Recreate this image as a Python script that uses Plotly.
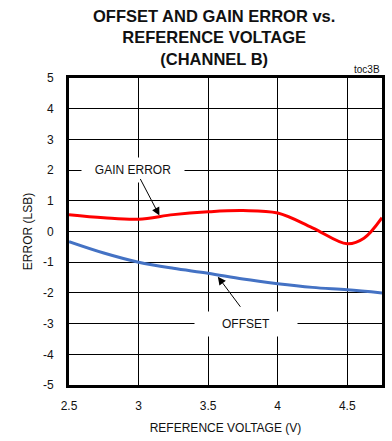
import plotly.graph_objects as go

# Reference voltage sweep (V)
ref_voltage = [2.5, 2.75, 3.0, 3.25, 3.5, 3.75, 4.0, 4.25, 4.5, 4.62, 4.75]
# Gain error (LSB)
gain_error = [0.55, 0.45, 0.4, 0.55, 0.64, 0.68, 0.6, 0.12, -0.4, -0.22, 0.45]

offset_voltage = [2.5, 2.75, 3.0, 3.25, 3.5, 3.75, 4.0, 4.25, 4.5, 4.75]
# Offset error (LSB)
offset_error = [-0.33, -0.7, -1.0, -1.2, -1.36, -1.55, -1.7, -1.82, -1.9, -2.0]

x_ticks = [2.5, 3, 3.5, 4, 4.5]
y_ticks = [-5, -4, -3, -2, -1, 0, 1, 2, 3, 4, 5]

FONT = "Liberation Sans, Arial, sans-serif"

fig = go.Figure()
fig.add_trace(go.Scatter(x=ref_voltage, y=gain_error, mode="lines",
                         line=dict(color="#ff0000", width=3, shape="spline", smoothing=1.0),
                         name="GAIN ERROR"))
fig.add_trace(go.Scatter(x=offset_voltage, y=offset_error, mode="lines",
                         line=dict(color="#4472c4", width=3, shape="spline", smoothing=1.0),
                         name="OFFSET"))

# Curve labels with white boxes that break the grid
fig.add_annotation(x=2.96, y=2, text="GAIN ERROR", showarrow=False,
                   bgcolor="white", width=100, height=22,
                   font=dict(family=FONT, size=12, color="#111"))
fig.add_annotation(x=3.77, y=-3, text="OFFSET", showarrow=False,
                   bgcolor="white", width=100, height=22,
                   font=dict(family=FONT, size=12, color="#111"))

# Pointer arrows
fig.add_annotation(x=3.15, y=0.52, ax=3.007, ay=1.76, xref="x", yref="y",
                   axref="x", ayref="y", text="", showarrow=True,
                   arrowhead=2, arrowsize=1.6, arrowwidth=1, arrowcolor="black")
fig.add_annotation(x=3.57, y=-1.47, ax=3.74, ay=-2.5, xref="x", yref="y",
                   axref="x", ayref="y", text="", showarrow=True,
                   arrowhead=2, arrowsize=1.6, arrowwidth=1, arrowcolor="black")

# Chart id tag
fig.add_annotation(x=1, y=1, xref="paper", yref="paper", xanchor="right",
                   yanchor="bottom", text="toc3B", showarrow=False, yshift=1,
                   font=dict(family=FONT, size=10, color="#111"))

# Title block above the plot
fig.add_annotation(x=0.5, y=1, xref="paper", yref="paper", xanchor="center",
                   yanchor="bottom", yshift=8, xshift=-12, showarrow=False,
                   text="<b>OFFSET AND GAIN ERROR vs.<br>REFERENCE VOLTAGE<br>(CHANNEL B)</b>",
                   font=dict(family=FONT, size=16.5, color="#111"))

fig.update_layout(
    width=392, height=441,
    margin=dict(l=69, r=7, t=78, b=56),
    paper_bgcolor="white", plot_bgcolor="white",
    showlegend=False,
    font=dict(family=FONT, size=12, color="#111"),
)
fig.update_xaxes(range=[2.5, 4.75], tickvals=x_ticks, ticktext=[str(v) for v in x_ticks],
                 showgrid=True, gridcolor="black", gridwidth=1, zeroline=False,
                 showline=True, linecolor="black", linewidth=3, mirror=True,
                 ticks="outside", ticklen=8, tickcolor="rgba(0,0,0,0)",
                 title=dict(text="REFERENCE VOLTAGE (V)", font=dict(size=12), standoff=12),
                 tickfont=dict(size=12))
fig.update_yaxes(range=[-5, 5], tickvals=y_ticks, ticktext=[str(v) for v in y_ticks],
                 showgrid=True, gridcolor="black", gridwidth=1, zeroline=False,
                 showline=True, linecolor="black", linewidth=3, mirror=True,
                 ticks="outside", ticklen=10, tickcolor="rgba(0,0,0,0)",
                 title=dict(text="ERROR (LSB)", font=dict(size=12), standoff=8),
                 tickfont=dict(size=12))

fig.write_html("out.html")
